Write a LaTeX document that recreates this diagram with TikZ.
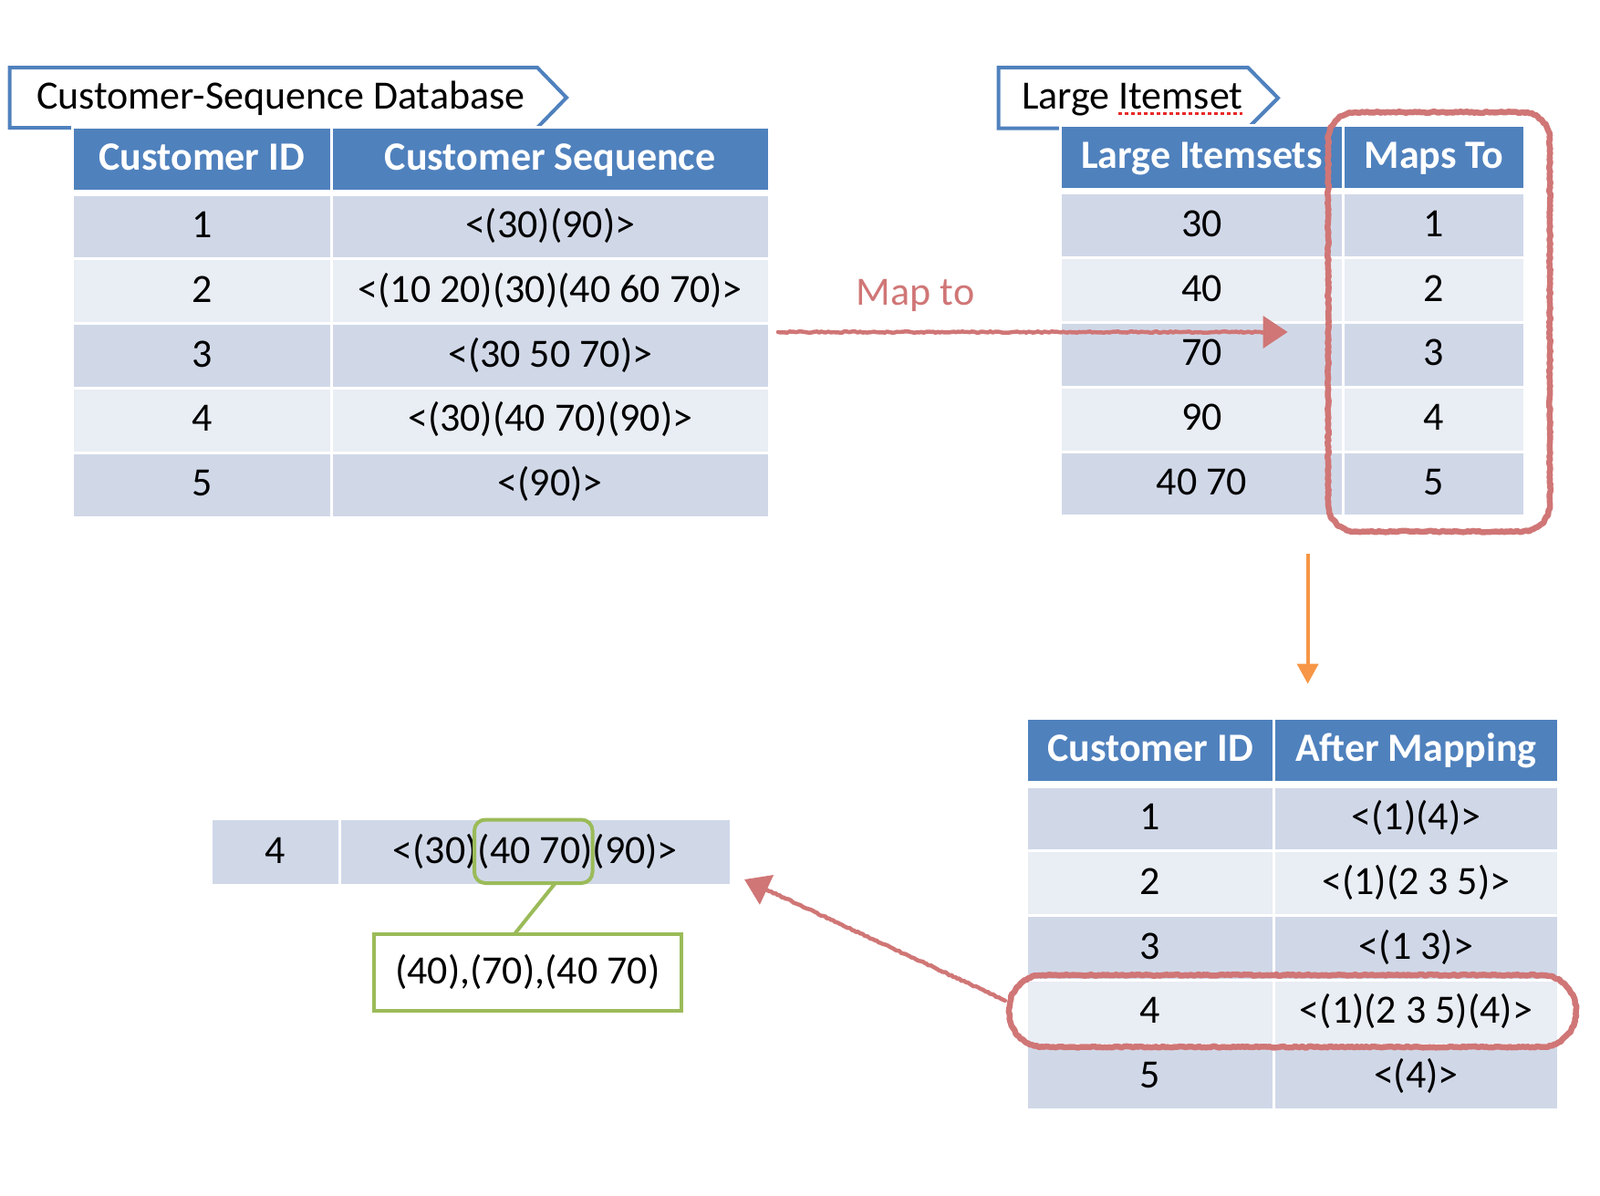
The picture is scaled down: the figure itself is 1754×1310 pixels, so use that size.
\documentclass[tikz,border=0pt]{standalone}
\usepackage{fontspec}
\setmainfont{Carlito}
\usetikzlibrary{arrows.meta,decorations.pathmorphing,calc}
\definecolor{hdrblue}{RGB}{79,129,189}
\definecolor{rowdark}{RGB}{208,216,232}
\definecolor{rowlight}{RGB}{233,237,244}
\definecolor{chalkred}{RGB}{208,118,118}
\definecolor{orangeA}{RGB}{247,150,70}
\definecolor{greenA}{RGB}{155,187,89}
\definecolor{spellred}{RGB}{232,40,40}
\begin{document}
\begin{tikzpicture}[x=1pt,y=-1pt,
  every node/.style={font=\fontsize{44pt}{50pt}\selectfont, inner sep=0pt, outer sep=0pt, text height=33pt, text depth=9pt},
  cell/.style={draw=white, line width=3pt, anchor=center, align=center},
  hdr/.style={cell, fill=hdrblue, text=white, font=\fontsize{44pt}{50pt}\selectfont\bfseries},
  titlebox/.style={draw=hdrblue, line width=4pt, fill=white, line join=miter},
  chalk/.style={draw=chalkred, line width=6.5pt, line cap=round, line join=round,
    decoration={random steps, segment length=2.5pt, amplitude=0.8pt}, decorate},
  chalkhead/.style={draw=chalkred, line width=4pt, -{Triangle[length=27pt,width=35pt]}},
  greenline/.style={draw=greenA, line width=4pt}
]
\useasboundingbox (0,0) rectangle (1754,1310);

% ---------- titles ----------
\draw[titlebox] (10.5,74) -- (589,74) -- (621,107) -- (589,140) -- (10.5,140) -- cycle;
\node[anchor=west] (T1) at (40,107) {Customer-Sequence Database};
\draw[titlebox] (1094.5,74) -- (1368,74) -- (1401,107.4) -- (1368,140.5) -- (1094.5,140.5) -- cycle;
\node[anchor=west] (T2) at (1120,107) {Large Itemset};
\draw[spellred, line width=3pt, dash pattern=on 4pt off 3pt] (1226,124) -- (1362,124);

% ---------- left table ----------
\node[hdr, minimum width=284.4pt, minimum height=70pt] (Lh1) at (221.2,174.5) {Customer ID};
\node[hdr, minimum width=479.6pt, minimum height=70pt] (Lh2) at (603.2,174.5) {Customer Sequence};
\foreach \a/\b [count=\k] in {1/<(30)(90)>, 2/<(10 20)(30)(40 60 70)>, 3/<(30 50 70)>, 4/<(30)(40 70)(90)>, 5/<(90)>}{
  \pgfmathsetmacro\yy{248.4+70.8*(\k-1)}
  \ifodd\k \def\rc{rowdark}\else \def\rc{rowlight}\fi
  \node[cell, fill=\rc, minimum width=284.4pt, minimum height=70.8pt] (La\k) at (221.2,\yy) {\a};
  \node[cell, fill=\rc, minimum width=479.6pt, minimum height=70.8pt] (Lb\k) at (603.2,\yy) {\b};
}

% ---------- right table ----------
\node[hdr, minimum width=310.2pt, minimum height=69.7pt] (Rh1) at (1317.4,172.25) {Large Itemsets};
\node[hdr, minimum width=198.8pt, minimum height=69.7pt] (Rh2) at (1571.9,172.25) {Maps To};
\foreach \a/\b [count=\k] in {30/1, 40/2, 70/3, 90/4, 40 70/5}{
  \pgfmathsetmacro\yy{247.2+70.8*(\k-1)}
  \ifodd\k \def\rc{rowdark}\else \def\rc{rowlight}\fi
  \node[cell, fill=\rc, minimum width=310.2pt, minimum height=70.8pt] (Ra\k) at (1317.4,\yy) {\a};
  \node[cell, fill=\rc, minimum width=198.8pt, minimum height=70.8pt] (Rb\k) at (1571.9,\yy) {\b};
}

% ---------- lower right table ----------
\node[hdr, minimum width=270.9pt, minimum height=69.7pt] (Mh1) at (1261.05,822.35) {Customer ID};
\node[hdr, minimum width=311.8pt, minimum height=69.7pt] (Mh2) at (1552.4,822.35) {After Mapping};
\foreach \a/\b [count=\k] in {1/<(1)(4)>, 2/<(1)(2 3 5)>, 3/<(1 3)>, 4/<(1)(2 3 5)(4)>, 5/<(4)>}{
  \pgfmathsetmacro\yy{897.5+70.8*(\k-1)}
  \ifodd\k \def\rc{rowdark}\else \def\rc{rowlight}\fi
  \node[cell, fill=\rc, minimum width=270.9pt, minimum height=70.8pt] (Ma\k) at (1261.05,\yy) {\a};
  \node[cell, fill=\rc, minimum width=311.8pt, minimum height=70.8pt] (Mb\k) at (1552.4,\yy) {\b};
}

% ---------- single row and its subsequences ----------
\node[cell, fill=rowdark, minimum width=140.2pt, minimum height=73pt] (S1) at (301.9,934) {4};
\node[cell, fill=rowdark, minimum width=429.5pt, minimum height=73pt] (S2) at (586.75,934) {<(30)(40 70)(90)>};
\node[draw=greenA, line width=4pt, rounded corners=12pt, minimum width=129.5pt, minimum height=69.5pt,
      text height=0pt, text depth=0pt] (hl) at (584.75,933.25) {};
\node[draw=greenA, line width=4pt, fill=white, minimum width=336.5pt, minimum height=83.7pt] (sub) at (578.25,1066.15) {(40),(70),(40 70)};
\draw[greenline] ($(hl.south)+(24,0)$) -- ($(sub.north)+(-14.6,0)$);

% ---------- map-to arrow ----------
\node[text=chalkred] (mapto) at (1003.6,322) {Map to};
\coordinate (ra1) at (853,364);
\coordinate (ra2) at (1411.6,364);
\draw[chalk, line width=4.5pt] (ra1) -- ($(ra2)!24pt!(ra1)$);
\draw[chalkhead] ($(ra2)!28pt!(ra1)$) -- (ra2);

% ---------- highlight ovals (rounded rectangles built from arcs) ----------
\draw[chalk] (1486,123) -- (1669,123) arc[start angle=270,end angle=360,radius=30]
  -- (1699,552.6) arc[start angle=0,end angle=90,radius=30]
  -- (1486,582.6) arc[start angle=90,end angle=180,radius=30]
  -- (1456,153) arc[start angle=180,end angle=270,radius=30] -- cycle;
\draw[chalk] (1144,1068.8) -- (1689.6,1068.8) arc[start angle=270,end angle=360,radius=38]
  -- (1727.6,1109.6) arc[start angle=0,end angle=90,radius=38]
  -- (1144,1147.6) arc[start angle=90,end angle=180,radius=38]
  -- (1106,1106.8) arc[start angle=180,end angle=270,radius=38] -- cycle;

% ---------- orange arrow ----------
\coordinate (oa) at (1433.6,606.6);
\coordinate (ob) at (1433.6,749.6);
\draw[orangeA, line width=4pt, -{Triangle[length=22pt,width=23pt]}] (oa) -- (ob);

% ---------- return arrow ----------
\coordinate (rb1) at (1101.7,1096.7);
\coordinate (rb2) at (816,964);
\draw[chalk, line width=4.5pt] (rb1) -- ($(rb2)!24pt!(rb1)$);
\draw[chalkhead] ($(rb2)!28pt!(rb1)$) -- (rb2);
\end{tikzpicture}
\end{document}
